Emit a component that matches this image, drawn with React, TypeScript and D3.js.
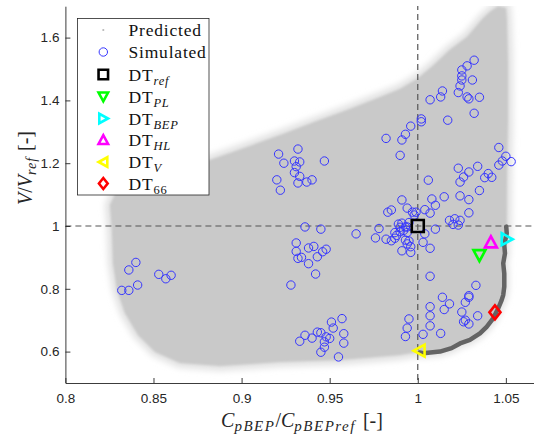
import React, { useRef, useEffect } from "react";
import * as d3 from "d3";

const W = 534;
const H = 436;

const xTicks = [0.8, 0.85, 0.9, 0.95, 1, 1.05];
const yTicks = [0.6, 0.8, 1, 1.2, 1.4, 1.6];

// outline of the predicted cloud: top edge right to left, down the left side, along the bottom
const cloudEdge: [number, number][] = [
  [1.0501, 1.694], [1.0455, 1.7], [1.041, 1.682], [1.037, 1.662], [1.0279, 1.602], [1.0182, 1.561],
  [1.0086, 1.51], [0.9995, 1.468], [0.9899, 1.436], [0.9802, 1.414], [0.9615, 1.373], [0.9428, 1.334],
  [0.9235, 1.293], [0.9048, 1.255], [0.8821, 1.21], [0.8594, 1.178], [0.8423, 1.153], [0.8299, 1.121],
  [0.8253, 1.067], [0.8264, 0.987], [0.827, 0.882], [0.8293, 0.796], [0.8338, 0.723], [0.8412, 0.653],
  [0.8509, 0.599], [0.865, 0.564], [0.8877, 0.554], [0.9218, 0.567], [0.9559, 0.573], [0.9899, 0.589],
  [1.0001, 0.599],
];
// right side of the cloud, from the front up to the top
const cloudRight: [number, number][] = [
  [1.0505, 1.0], [1.0506, 1.147], [1.0512, 1.338], [1.0512, 1.529], [1.0506, 1.656],
];
// dark front from DT_V to DT_BEP
const front: [number, number][] = [
  [1.001, 0.597], [1.0031, 0.595], [1.0126, 0.6], [1.0192, 0.611], [1.024, 0.626], [1.0296, 0.637],
  [1.0353, 0.658], [1.0391, 0.679], [1.0428, 0.706], [1.0457, 0.738], [1.0476, 0.764], [1.0485, 0.78],
  [1.0491, 0.807], [1.0491, 0.849], [1.0485, 0.881], [1.0495, 0.913], [1.0491, 0.94], [1.0499, 0.961],
  [1.0505, 0.977], [1.0502, 0.998],
];

const simulated: [number, number][] = [
  // far left
  [0.84, 0.884], [0.836, 0.86], [0.853, 0.846], [0.857, 0.832], [0.86, 0.843], [0.841, 0.812], [0.832, 0.795], [0.836, 0.795],
  // upper middle
  [0.921, 1.229], [0.932, 1.245], [0.924, 1.2], [0.93, 1.207], [0.933, 1.204], [0.931, 1.189], [0.947, 1.207],
  [0.93, 1.17], [0.933, 1.158], [0.92, 1.147], [0.932, 1.137], [0.937, 1.14], [0.94, 1.147], [0.922, 1.114],
  // middle row
  [0.936, 0.997], [0.945, 0.99], [0.965, 0.975], [0.931, 0.946], [0.931, 0.919], [0.932, 0.897], [0.934, 0.9],
  [0.938, 0.93], [0.941, 0.935], [0.938, 0.88], [0.948, 0.926], [0.946, 0.918], [0.943, 0.902], [0.942, 0.847], [0.928, 0.812],
  // lower middle
  [0.957, 0.705], [0.951, 0.694], [0.952, 0.675], [0.958, 0.657], [0.958, 0.627], [0.943, 0.662], [0.945, 0.66],
  [0.948, 0.647], [0.95, 0.642], [0.936, 0.652], [0.933, 0.633], [0.94, 0.643], [0.947, 0.631], [0.947, 0.614],
  [0.945, 0.598], [0.955, 0.583],
  // rising towards x = 1
  [0.982, 1.279], [0.991, 1.274], [0.993, 1.292], [0.996, 1.318], [0.99, 1.225], [1.002, 1.341], [1.002, 1.332],
  [1.007, 1.402], [1.013, 1.411], [1.014, 1.43], [1.017, 1.337],
  // top right
  [1.032, 1.528], [1.028, 1.51], [1.025, 1.497], [1.025, 1.478], [1.025, 1.465], [1.031, 1.465], [1.024, 1.446],
  [1.023, 1.425], [1.028, 1.411], [1.029, 1.405], [1.035, 1.41], [1.032, 1.359],
  // right middle
  [1.046, 1.25], [1.05, 1.222], [1.048, 1.207], [1.053, 1.205], [1.046, 1.194], [1.034, 1.19], [1.023, 1.184],
  [1.029, 1.172], [1.026, 1.156], [1.04, 1.167], [1.038, 1.154], [1.042, 1.155], [1.024, 1.14], [1.006, 1.146],
  [1.035, 1.113], [1.015, 1.093], [1.024, 1.096], [1.029, 1.084], [1.008, 1.086], [1.01, 1.066], [1.004, 1.052],
  [1.007, 1.041], [1.029, 1.042], [1.018, 1.018], [1.021, 1.023], [1.024, 1.018], [1.02, 1.005], [1.023, 1.003],
  [1.01, 0.99], [0.991, 1.083],
  // around the reference design
  [0.983, 1.044], [0.985, 1.051], [0.994, 1.057], [0.997, 1.044], [0.999, 1.044], [0.998, 1.035],
  [0.978, 0.992], [0.976, 0.962], [0.982, 0.958], [0.985, 0.953], [0.987, 0.961], [0.988, 0.97], [0.99, 0.982],
  [0.992, 0.986], [0.989, 1.006], [0.991, 1.009], [0.99, 0.996], [0.993, 0.997], [0.995, 1.011], [0.994, 0.997],
  [0.987, 0.979], [0.994, 0.979], [0.993, 0.955], [0.995, 0.952], [0.994, 0.943], [0.996, 0.934], [0.991, 0.921],
  [0.996, 0.916], [1.004, 0.975], [1.003, 0.948], [1.007, 0.929],
  // lower right
  [1.007, 0.84], [1.033, 0.811], [1.014, 0.773], [1.018, 0.752], [1.015, 0.734], [1.007, 0.743], [1.007, 0.714],
  [1.007, 0.682], [0.995, 0.704], [0.994, 0.675], [0.993, 0.648], [1.003, 0.655], [1.013, 0.658], [1.025, 0.726],
  [1.027, 0.7], [1.026, 0.695], [1.029, 0.688], [1.034, 0.714], [1.027, 0.757], [1.029, 0.773], [1.029, 0.778],
];

const dtNames = ["ref", "PL", "BEP", "HL", "V", "66"];
const dtX = [1.0, 1.035, 1.0505, 1.0415, 1.001, 1.0438];
const dtY = [1.0, 0.907, 0.958, 0.948, 0.603, 0.725];

const dtStyle: Record<string, { color: string; shape: string; italic: boolean }> = {
  ref: { color: "#000000", shape: "square", italic: true },
  PL: { color: "#00ff00", shape: "down", italic: true },
  BEP: { color: "#00ffff", shape: "right", italic: true },
  HL: { color: "#ff00ff", shape: "up", italic: true },
  V: { color: "#ffff00", shape: "left", italic: true },
  "66": { color: "#ff0000", shape: "diamond", italic: false },
};

function markerPath(shape: string, cx: number, cy: number, s: number) {
  const h = s / 2;
  const k = s * 0.42;
  switch (shape) {
    case "square":
      return `M${cx - h},${cy - h}H${cx + h}V${cy + h}H${cx - h}Z`;
    case "down":
      return `M${cx - h},${cy - k}L${cx + h},${cy - k}L${cx},${cy + h}Z`;
    case "up":
      return `M${cx - h},${cy + k}L${cx + h},${cy + k}L${cx},${cy - h}Z`;
    case "right":
      return `M${cx - k},${cy - h}L${cx - k},${cy + h}L${cx + h},${cy}Z`;
    case "left":
      return `M${cx + k},${cy - h}L${cx + k},${cy + h}L${cx - h},${cy}Z`;
    default:
      return `M${cx},${cy - s * 0.58}L${cx + s * 0.46},${cy}L${cx},${cy + s * 0.58}L${cx - s * 0.46},${cy}Z`;
  }
}

export default function App() {
  const svgRef = useRef<SVGSVGElement>(null);

  useEffect(() => {
    const svg = d3.select(svgRef.current);
    svg.selectAll("*").remove();

    const x = d3.scaleLinear().domain([0.8, 1.07]).range([65.4, 541.1]);
    const y = d3.scaleLinear().domain([0.5, 1.7]).range([383, 6.2]);

    const defs = svg.append("defs");
    defs.append("clipPath").attr("id", "plot-clip")
      .append("rect").attr("x", 65.4).attr("y", 6).attr("width", 480).attr("height", 377);
    defs.append("filter").attr("id", "halo").attr("x", "-10%").attr("y", "-10%").attr("width", "120%").attr("height", "120%")
      .append("feGaussianBlur").attr("stdDeviation", 3);
    defs.append("filter").attr("id", "soft")
      .append("feGaussianBlur").attr("stdDeviation", 0.8);

    const plot = svg.append("g").attr("clip-path", "url(#plot-clip)");

    // predicted cloud
    const outline = [...cloudEdge, ...front, ...cloudRight];
    const poly = d3.line<[number, number]>().x(d => x(d[0])).y(d => y(d[1])).curve(d3.curveLinearClosed);
    plot.append("path").attr("d", poly(outline)).attr("fill", "#d8d8d8")
      .attr("stroke", "#e2e2e2").attr("stroke-width", 10).attr("filter", "url(#halo)");
    plot.append("path").attr("d", poly(outline)).attr("fill", "#c9c9c9").attr("filter", "url(#soft)");

    // reference lines
    plot.append("line").attr("x1", x(1)).attr("x2", x(1)).attr("y1", 4).attr("y2", 383)
      .attr("stroke", "#555").attr("stroke-width", 1.2).attr("stroke-dasharray", "6,4");
    plot.append("line").attr("x1", 65.4).attr("x2", W).attr("y1", y(1)).attr("y2", y(1))
      .attr("stroke", "#555").attr("stroke-width", 1.2).attr("stroke-dasharray", "6,4");

    // simulated designs
    plot.append("g").selectAll("circle").data(simulated).enter().append("circle")
      .attr("cx", d => x(d[0])).attr("cy", d => y(d[1])).attr("r", 4.2)
      .attr("fill", "none").attr("stroke", "#3535ff").attr("stroke-width", 1);

    // front
    const ln = d3.line<[number, number]>().x(d => x(d[0])).y(d => y(d[1]));
    plot.append("path").attr("d", ln(front)).attr("fill", "none").attr("stroke", "#646464")
      .attr("stroke-width", 4.5).attr("stroke-linejoin", "round").attr("stroke-linecap", "round");

    // design points
    dtNames.forEach((n, i) => {
      const st = dtStyle[n];
      plot.append("path").attr("d", markerPath(st.shape, x(dtX[i]), y(dtY[i]), 12))
        .attr("fill", "none").attr("stroke", st.color).attr("stroke-width", 2.6).attr("stroke-linejoin", "miter");
    });

    // axes
    const tickFont = "Liberation Sans, Arial, Helvetica, sans-serif";
    const gx = svg.append("g").attr("transform", `translate(0,${y(0.5)})`)
      .call(d3.axisBottom(x).tickValues(xTicks).tickSize(-5).tickSizeOuter(0).tickPadding(10).tickFormat(d3.format("~g")));
    const gy = svg.append("g").attr("transform", `translate(${x(0.8)},0)`)
      .call(d3.axisLeft(y).tickValues(yTicks).tickSize(-5).tickSizeOuter(0).tickPadding(6).tickFormat(d3.format("~g")));
    [gx, gy].forEach(g => {
      g.attr("font-family", null).attr("font-size", null);
      g.selectAll("path,line").attr("stroke", "#262626").attr("stroke-width", 0.9);
      g.selectAll("text").attr("fill", "#262626").attr("font-family", tickFont).attr("font-size", 13.5);
    });

    const serif = "Liberation Serif, DejaVu Serif, serif";

    // x label
    const xl = svg.append("text").attr("x", 302).attr("y", 427).attr("text-anchor", "middle")
      .attr("font-family", serif).attr("font-size", 20).attr("fill", "#262626");
    xl.append("tspan").attr("font-style", "italic").text("C");
    xl.append("tspan").attr("font-style", "italic").attr("font-size", 15).attr("dy", 4).attr("letter-spacing", 1.5).text("pBEP");
    xl.append("tspan").attr("dy", -4).text("/");
    xl.append("tspan").attr("font-style", "italic").text("C");
    xl.append("tspan").attr("font-style", "italic").attr("font-size", 15).attr("dy", 4).attr("letter-spacing", 1.5).text("pBEPref");
    xl.append("tspan").attr("dy", -4).attr("dx", 7).text("[-]");

    // y label
    const yl = svg.append("text").attr("transform", "translate(32,168) rotate(-90)").attr("text-anchor", "middle")
      .attr("font-family", serif).attr("font-size", 20).attr("fill", "#262626");
    yl.append("tspan").attr("font-style", "italic").text("V");
    yl.append("tspan").text("/");
    yl.append("tspan").attr("font-style", "italic").text("V");
    yl.append("tspan").attr("font-style", "italic").attr("font-size", 14).attr("dy", 4).attr("letter-spacing", 1).text("ref");
    yl.append("tspan").attr("dy", -4).attr("dx", 6).text("[-]");

    // legend
    const lg = svg.append("g");
    lg.append("rect").attr("x", 77.5).attr("y", 18.5).attr("width", 131.5).attr("height", 176.5)
      .attr("fill", "#fff").attr("stroke", "#262626").attr("stroke-width", 0.8);
    const rowY = [30, 52, 74.5, 96.5, 118.5, 140, 162, 183.5];
    const mx = 103.3;
    const tx = 128.5;
    const labelText = (yy: number) => lg.append("text").attr("x", tx).attr("y", yy + 6)
      .attr("font-family", serif).attr("font-size", 17.5).attr("letter-spacing", 0.8).attr("fill", "#111");

    lg.append("circle").attr("cx", mx).attr("cy", rowY[0]).attr("r", 1.1).attr("fill", "#b8b8b8");
    labelText(rowY[0]).text("Predicted");
    lg.append("circle").attr("cx", mx).attr("cy", rowY[1]).attr("r", 4.2).attr("fill", "none")
      .attr("stroke", "#3535ff").attr("stroke-width", 1);
    labelText(rowY[1]).text("Simulated");

    dtNames.forEach((n, i) => {
      const st = dtStyle[n];
      const yy = rowY[i + 2];
      lg.append("path").attr("d", markerPath(st.shape, mx, yy, 9.5))
        .attr("fill", "none").attr("stroke", st.color).attr("stroke-width", 2.6);
      const t = labelText(yy);
      t.append("tspan").text("DT");
      t.append("tspan").attr("font-style", st.italic ? "italic" : "normal").attr("font-size", 12.5)
        .attr("dy", 4).text(n);
    });
  }, []);

  return (
    <svg
      ref={svgRef}
      width={W}
      height={H}
      style={{ position: "absolute", left: 0, top: 0, background: "#fff" }}
    />
  );
}
